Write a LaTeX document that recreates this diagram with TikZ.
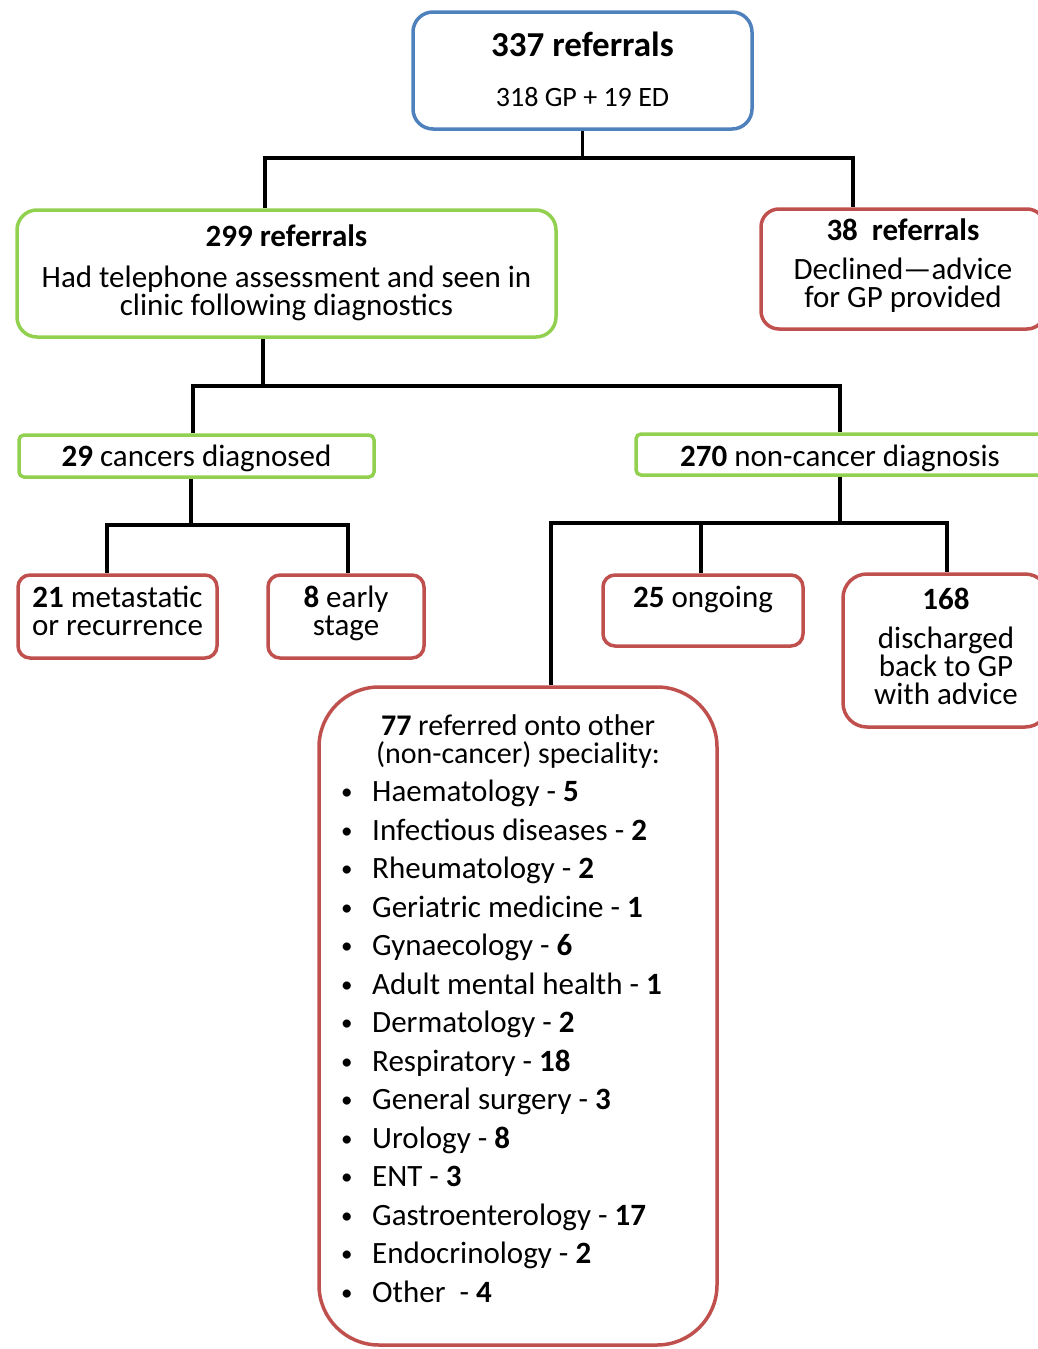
\documentclass[tikz,border=0pt]{standalone}
\usepackage{fontspec}
\setmainfont{Carlito}
\usepackage{tikz}

\definecolor{boxblue}{HTML}{4F81BD}
\definecolor{boxgreen}{HTML}{92D050}
\definecolor{boxred}{HTML}{C0504D}

\tikzset{
	box/.style={draw, line width=3.5pt, fill=white, align=center, inner sep=0pt,
		font=\fontsize{31}{28}\selectfont},
	bluebox/.style={box, draw=boxblue, rounded corners=20pt},
	greenbox/.style={box, draw=boxgreen, rounded corners=#1},
	redbox/.style={box, draw=boxred, rounded corners=#1},
	link/.style={draw=black, line width=3.5pt},
}
\newcommand{\bul}{\makebox[31pt][l]{\raisebox{2pt}{\fontsize{23}{23}\selectfont\textbullet}}}
% empty depth below the last line, lifts the text by half of it
\newcommand{\lift}[1]{\rule[-#1]{0pt}{#1}}

\begin{document}
\begin{tikzpicture}[x=1pt,y=-1pt]
	\useasboundingbox (0,0) rectangle (1038,1349);
	% boxes
	\node[bluebox, minimum width=339pt, minimum height=117pt, font=\fontsize{28}{50}\selectfont]
		(ref337) at (582.5,70.5) {{\fontsize{35}{50}\selectfont\bfseries 337 referrals}\\318 GP + 19 ED\lift{2pt}};
	\node[greenbox=20pt, minimum width=539pt, minimum height=127pt] (ref299) at (286.5,273.5)
		{\textbf{299 referrals}\\[13pt]Had telephone assessment and seen in\\clinic following diagnostics\lift{6pt}};
	\node[redbox=18pt, minimum width=284pt, minimum height=120pt] (ref38) at (903,269)
		{\textbf{38\ \ referrals}\\[11pt]Declined—advice\\for GP provided\lift{12pt}};
	\node[greenbox=5pt, minimum width=355pt, minimum height=42pt] (canc29) at (196.5,456)
		{\rule{0pt}{27pt}\textbf{29} cancers diagnosed};
	\node[greenbox=5pt, minimum width=408pt, minimum height=41pt] (non270) at (840,454.5)
		{\rule{0pt}{30pt}\textbf{270} non-cancer diagnosis};
	\node[redbox=12pt, minimum width=199pt, minimum height=83pt] (meta21) at (117.5,616.5)
		{\textbf{21} metastatic\\or recurrence\lift{12pt}};
	\node[redbox=12pt, minimum width=156pt, minimum height=83pt] (early8) at (346,616.5)
		{\textbf{8} early\\stage\lift{11pt}};
	\node[redbox=12pt, minimum width=200pt, minimum height=71pt] (ongo25) at (703,610.5)
		{\textbf{25} ongoing\\ };
	\node[redbox=24pt, minimum width=206pt, minimum height=153pt] (disc168) at (946,650.5)
		{\textbf{168}\\[11pt]discharged\\back to GP\\with advice\lift{8pt}};
	\node[redbox=60pt, minimum width=398pt, minimum height=658pt] (spec77) at (518,1016) {};
	\node[align=center, inner sep=0pt, font=\fontsize{30}{28}\selectfont] (spechead) at (518,741)
		{\textbf{77} referred onto other\\(non-cancer) speciality:};
	\node[align=left, inner sep=0pt, anchor=north west, font=\fontsize{31}{38.5}\selectfont]
		(speclist) at (341,780) {%
		\bul Haematology - \textbf{5}\\
		\bul Infectious diseases - \textbf{2}\\
		\bul Rheumatology - \textbf{2}\\
		\bul Geriatric medicine - \textbf{1}\\
		\bul Gynaecology - \textbf{6}\\
		\bul Adult mental health - \textbf{1}\\
		\bul Dermatology - \textbf{2}\\
		\bul Respiratory - \textbf{18}\\
		\bul General surgery - \textbf{3}\\
		\bul Urology - \textbf{8}\\
		\bul ENT - \textbf{3}\\
		\bul Gastroenterology - \textbf{17}\\
		\bul Endocrinology - \textbf{2}\\
		\bul Other\ \ - \textbf{4}};
	% connectors
	\draw[link] (ref337.south) -- ++(0,27) -| ([xshift=-21.5pt]ref299.north);
	\draw[link] (ref337.south) -- ++(0,27) -| ([xshift=-50pt]ref38.north);
	\draw[link] ([xshift=-23.5pt]ref299.south) -- ++(0,47) -| ([xshift=-3.5pt]canc29.north);
	\draw[link] ([xshift=-23.5pt]ref299.south) -- ++(0,47) -| (non270.north);
	\draw[link] ([xshift=-5.5pt]canc29.south) -- ++(0,46) -| ([xshift=-10.5pt]meta21.north);
	\draw[link] ([xshift=-5.5pt]canc29.south) -- ++(0,46) -| ([xshift=2pt]early8.north);
	\draw[link] (non270.south) -- ++(0,46) -| ([xshift=33pt]spec77.north);
	\draw[link] (non270.south) -- ++(0,46) -| ([xshift=-2pt]ongo25.north);
	\draw[link] (non270.south) -- ++(0,46) -| ([xshift=1pt]disc168.north);
\end{tikzpicture}
\end{document}
